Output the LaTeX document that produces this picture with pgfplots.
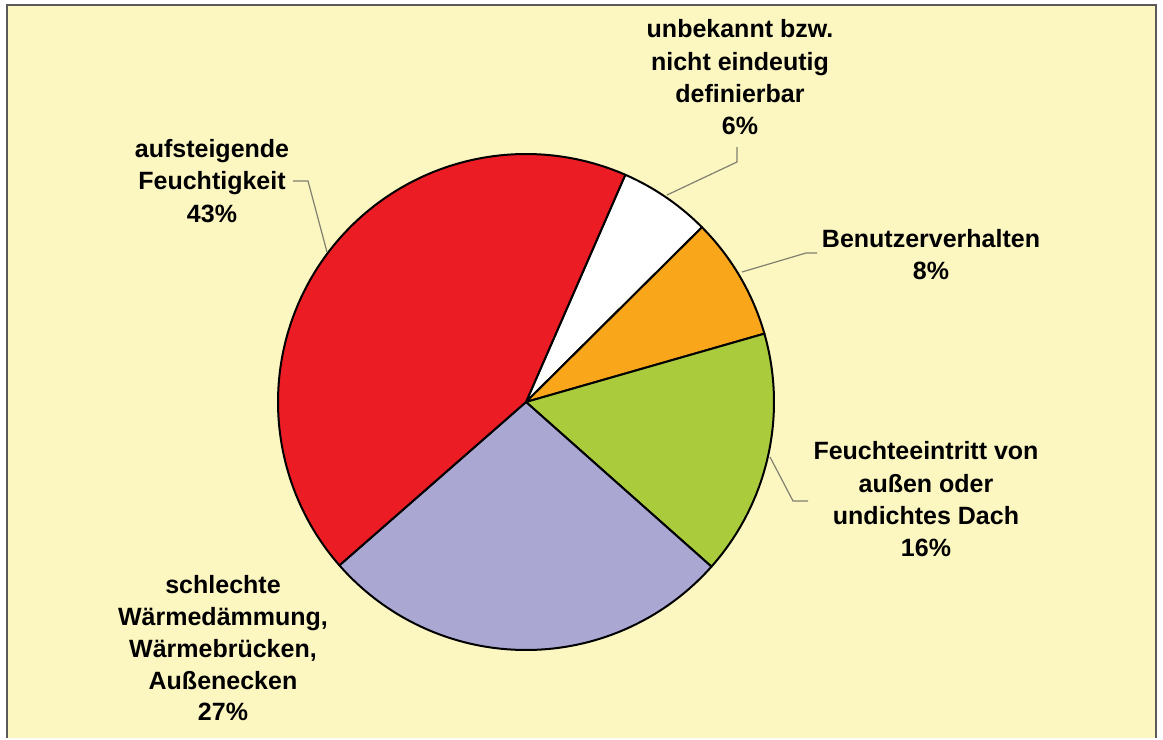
\documentclass[border=0pt]{standalone}
\usepackage{pgfplots}
\pgfplotsset{compat=1.18}
\usepackage{pgfplotstable}
\usepackage{fontspec}
\setmainfont{Liberation Sans}
\definecolor{bgY}{HTML}{FCF6C1}
\definecolor{cRed}{HTML}{EC1C24}
\definecolor{cOra}{HTML}{F9A61B}
\definecolor{cGre}{HTML}{A9CB3C}
\definecolor{cPur}{HTML}{AAA8D3}
\definecolor{cLead}{HTML}{808070}
\definecolor{cFrame}{HTML}{5A5A5A}

\pgfplotstableread{
slice pct
unbekannt 6
Benutzerverhalten 8
Feuchteeintritt 16
Waermedaemmung 27
aufsteigend 43
}\piedata

\def\cx{526}
\def\cy{402}
\def\rr{248}
\def\startang{66.4}
\pgfplotstablegetelem{0}{pct}\of\piedata \pgfmathsetmacro\aA{\startang-3.6*\pgfplotsretval}
\pgfplotstablegetelem{1}{pct}\of\piedata \pgfmathsetmacro\aB{\aA-3.6*\pgfplotsretval}
\pgfplotstablegetelem{2}{pct}\of\piedata \pgfmathsetmacro\aC{\aB-3.6*\pgfplotsretval}
\pgfplotstablegetelem{3}{pct}\of\piedata \pgfmathsetmacro\aD{\aC-3.6*\pgfplotsretval}
\pgfplotstablegetelem{4}{pct}\of\piedata \pgfmathsetmacro\aE{\aD-3.6*\pgfplotsretval}

\newcommand\lab[3]{\node[anchor=base,inner sep=0pt,font=\fontsize{12.5}{16}\selectfont\bfseries] at (axis cs:#1,#2) {#3};}

\begin{document}
\begin{tikzpicture}
\fill[white] (0,0) rectangle (581.5pt,369pt);
\fill[bgY] (3.5pt,0) rectangle (578pt,366.5pt);
\draw[cFrame,line width=1.2pt] (3.5pt,0) -- (3.5pt,366.5pt) -- (578pt,366.5pt) -- (578pt,0);
\begin{axis}[
  width=581.5pt, height=369pt, scale only axis,
  xmin=0, xmax=1163, ymin=0, ymax=738, y dir=reverse,
  hide axis, clip=false, at={(0,0)}, anchor=south west,
]
\addplot[fill=white, draw=black, line width=1pt, line join=round, domain=\aA:\startang, samples=30]
  ({\cx+\rr*cos(x)},{\cy-\rr*sin(x)}) -- (axis cs:\cx,\cy) -- cycle;
\addplot[fill=cOra, draw=black, line width=1pt, line join=round, domain=\aB:\aA, samples=30]
  ({\cx+\rr*cos(x)},{\cy-\rr*sin(x)}) -- (axis cs:\cx,\cy) -- cycle;
\addplot[fill=cGre, draw=black, line width=1pt, line join=round, domain=\aC:\aB, samples=50]
  ({\cx+\rr*cos(x)},{\cy-\rr*sin(x)}) -- (axis cs:\cx,\cy) -- cycle;
\addplot[fill=cPur, draw=black, line width=1pt, line join=round, domain=\aD:\aC, samples=80]
  ({\cx+\rr*cos(x)},{\cy-\rr*sin(x)}) -- (axis cs:\cx,\cy) -- cycle;
\addplot[fill=cRed, draw=black, line width=1pt, line join=round, domain=\aE:\aD, samples=120]
  ({\cx+\rr*cos(x)},{\cy-\rr*sin(x)}) -- (axis cs:\cx,\cy) -- cycle;

% leader lines
\draw[cLead, line width=0.6pt] (axis cs:737,147) -- (axis cs:737,162) -- (axis cs:667,195);
\draw[cLead, line width=0.6pt] (axis cs:293,181) -- (axis cs:308,181) -- (axis cs:327,252);
\draw[cLead, line width=0.6pt] (axis cs:817,253) -- (axis cs:806,253) -- (axis cs:742,272);
\draw[cLead, line width=0.6pt] (axis cs:808,501) -- (axis cs:793,501) -- (axis cs:770,457);

% labels
\lab{740}{37}{unbekannt bzw.}
\lab{740}{70}{nicht eindeutig}
\lab{740}{102}{definierbar}
\lab{740}{134}{6\%}

\lab{212}{157}{aufsteigende}
\lab{212}{189}{Feuchtigkeit}
\lab{212}{222}{43\%}

\lab{931}{247}{Benutzerverhalten}
\lab{931}{279}{8\%}

\lab{926}{459}{Feuchteeintritt von}
\lab{926}{492}{außen oder}
\lab{926}{524}{undichtes Dach}
\lab{926}{556}{16\%}

\lab{223}{593}{schlechte}
\lab{223}{625}{Wärmedämmung,}
\lab{223}{657}{Wärmebrücken,}
\lab{223}{689}{Außenecken}
\lab{223}{720}{27\%}
\end{axis}
\end{tikzpicture}
\end{document}
